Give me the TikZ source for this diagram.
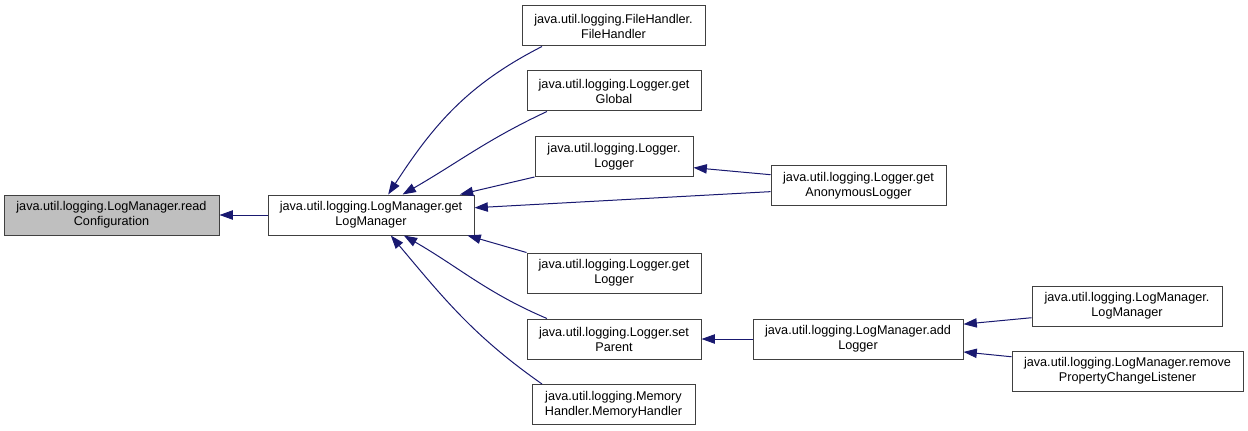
\documentclass[tikz,border=0pt]{standalone}
\usepackage{fontspec}
\setmainfont{Liberation Sans}
\usetikzlibrary{arrows.meta}
\definecolor{edgeblue}{HTML}{191970}
\definecolor{focusgray}{HTML}{BFBFBF}

\begin{document}
\begin{tikzpicture}[x=0.75pt, y=-0.75pt,
    fn/.style={draw=black!75, line width=0.75pt, fill=white, minimum height=30pt,
      inner sep=1pt, align=center, font=\fontsize{9.5}{11.25}\selectfont},
    call/.style={draw=edgeblue, line width=0.75pt,
      -{Triangle[length=10pt, width=7pt]}, edgeblue}]
    \useasboundingbox (0,0) rectangle (1248,431);

    % Focus function and its direct caller
    \node[fn, fill=focusgray, minimum width=161.25pt] (readcfg) at (111.5, 215) {java.util.logging.LogManager.read\\Configuration};
    \node[fn, minimum width=154.5pt] (getlm) at (371, 215) {java.util.logging.LogManager.get\\LogManager};

    % Callers of getLogManager
    \node[fn, minimum width=137.25pt] (filehandler) at (613.5, 26) {java.util.logging.FileHandler.\\FileHandler};
    \node[fn, minimum width=130.5pt] (getglobal) at (614, 91) {java.util.logging.Logger.get\\Global};
    \node[fn, minimum width=118.5pt] (logger) at (614, 156.5) {java.util.logging.Logger.\\Logger};
    \node[fn, minimum width=131.25pt] (anonlogger) at (858.5, 185.5) {java.util.logging.Logger.get\\AnonymousLogger};
    \node[fn, minimum width=130.5pt] (getlogger) at (614, 273) {java.util.logging.Logger.get\\Logger};
    \node[fn, minimum width=130.5pt] (setparent) at (614, 339) {java.util.logging.Logger.set\\Parent};
    \node[fn, minimum width=122.25pt] (memhandler) at (613.5, 404.5) {java.util.logging.Memory\\Handler.MemoryHandler};

    % Callers of setParent
    \node[fn, minimum width=157.5pt] (addlogger) at (858, 339) {java.util.logging.LogManager.add\\Logger};
    \node[fn, minimum width=142.5pt] (lmctor) at (1127, 306) {java.util.logging.LogManager.\\LogManager};
    \node[fn, minimum width=173.25pt] (removepcl) at (1127.5, 371) {java.util.logging.LogManager.remove\\PropertyChangeListener};

    % Connections
    \draw[call] (getlm) -- (readcfg);
    \draw[call] (filehandler.196) to[out=207, in=57] (getlm.50);
    \draw[call] (getglobal.197) to[out=205, in=30] (getlm.33);
    \draw[call] (logger.south west) -- (getlm.13);
    \draw[call] (anonlogger.184) -- (getlm.4);
    \draw[call] (anonlogger.173) -- (logger.-8);
    \draw[call] (getlogger.north west) -- (getlm.-12);
    \draw[call] (setparent.163) to[out=157, in=-30] (getlm.-32);
    \draw[call] (memhandler.164) to[out=145, in=-50] (getlm.-46);
    \draw[call] (addlogger) -- (setparent);
    \draw[call] (lmctor.187) -- (addlogger.8);
    \draw[call] (removepcl.173) -- (addlogger.-7);
  \end{tikzpicture}
\end{document}
